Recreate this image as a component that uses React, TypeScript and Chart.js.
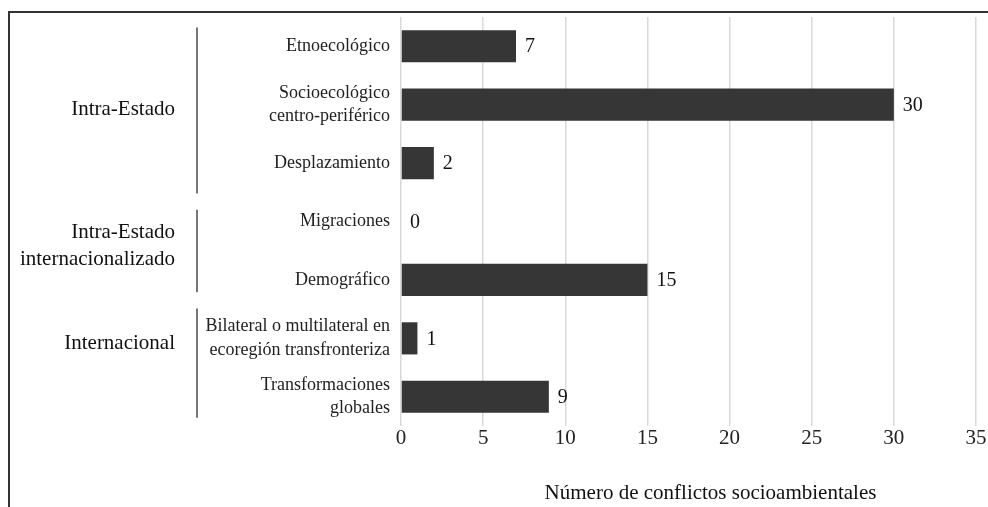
import React, { useEffect, useRef } from "react";
import { Chart, registerables } from "chart.js";

Chart.register(...registerables);

const categories: string[][] = [
  ["Etnoecológico"],
  ["Socioecológico", "centro-periférico"],
  ["Desplazamiento"],
  ["Migraciones"],
  ["Demográfico"],
  ["Bilateral o multilateral en", "ecoregión transfronteriza"],
  ["Transformaciones", "globales"],
];
const values: number[] = [7, 30, 2, 0, 15, 1, 9];
const groupNames: string[][] = [
  ["Intra-Estado"],
  ["Intra-Estado", "internacionalizado"],
  ["Internacional"],
];
const xTicks: number[] = [0, 5, 10, 15, 20, 25, 30, 35];
const xTitle = "Número de conflictos socioambientales";

const FONT = "'Liberation Serif', 'Times New Roman', serif";

// layout of the group brackets, in category-index units
const groupLayout = [
  { lineFrom: -0.32, lineTo: 2.52, labelAt: 1.09 },
  { lineFrom: 2.8, lineTo: 4.21, labelAt: 3.42 },
  { lineFrom: 4.49, lineTo: 6.36, labelAt: 5.08 },
];

const extrasPlugin = {
  id: "extras",
  afterDatasetsDraw(chart: any) {
    const ctx = chart.ctx;
    const meta = chart.getDatasetMeta(0);
    ctx.save();
    // value labels
    ctx.font = `20px ${FONT}`;
    ctx.fillStyle = "#111";
    ctx.textAlign = "left";
    ctx.textBaseline = "middle";
    meta.data.forEach((bar: any, i: number) => {
      ctx.fillText(String(values[i]), bar.x + 9, bar.y + 1);
    });
    // group labels + bracket lines
    const yScale = chart.scales.y;
    groupNames.forEach((lines, g) => {
      const lay = groupLayout[g];
      const y1 = yScale.getPixelForValue(lay.lineFrom);
      const y2 = yScale.getPixelForValue(lay.lineTo);
      ctx.strokeStyle = "#777";
      ctx.lineWidth = 2;
      ctx.beginPath();
      ctx.moveTo(197, y1);
      ctx.lineTo(197, y2);
      ctx.stroke();
      const cy = yScale.getPixelForValue(lay.labelAt);
      const lh = 27;
      ctx.font = `21px ${FONT}`;
      ctx.fillStyle = "#111";
      ctx.textAlign = "right";
      ctx.textBaseline = "middle";
      lines.forEach((t, k) => {
        ctx.fillText(t, 175, cy + (k - (lines.length - 1) / 2) * lh);
      });
    });
    // x axis title
    const area = chart.chartArea;
    ctx.font = `21px ${FONT}`;
    ctx.fillStyle = "#111";
    ctx.textAlign = "center";
    ctx.textBaseline = "middle";
    ctx.fillText(xTitle, (area.left + area.right) / 2 + 22, 493);
    ctx.restore();
  },
};

export default function App() {
  const ref = useRef<HTMLCanvasElement>(null);
  useEffect(() => {
    if (!ref.current) return;
    const chart = new Chart(ref.current, {
      type: "bar",
      data: {
        labels: categories,
        datasets: [
          {
            data: values,
            backgroundColor: "#363636",
            borderWidth: 0,
            barPercentage: 0.55,
            categoryPercentage: 1,
          },
        ],
      },
      options: {
        indexAxis: "y",
        animation: false,
        responsive: false,
        maintainAspectRatio: false,
        layout: { padding: { top: 17, right: 12, bottom: 0, left: 0 } },
        plugins: {
          legend: { display: false },
          tooltip: { enabled: false },
          title: { display: false },
        },
        scales: {
          x: {
            min: 0,
            max: 35,
            afterBuildTicks: (scale: any) => {
              scale.ticks = xTicks.map((v) => ({ value: v }));
            },
            afterFit: (scale: any) => {
              scale.height = 81;
              scale.paddingLeft = 0;
              scale.paddingRight = 0;
            },
            grid: { color: "#d9d9d9", lineWidth: 1.5, drawTicks: false },
            border: { display: false },
            ticks: {
              font: { family: FONT, size: 21 },
              color: "#222",
              padding: 0,
              maxRotation: 0,
            },
          },
          y: {
            afterFit: (scale: any) => {
              scale.width = 401;
              scale.paddingTop = 0;
              scale.paddingBottom = 0;
            },
            grid: { display: false, drawTicks: false },
            border: { display: false },
            ticks: {
              font: { family: FONT, size: 18, lineHeight: 1.3 },
              color: "#222",
              padding: 11,
              autoSkip: false,
            },
          },
        },
      },
      plugins: [extrasPlugin],
    });
    return () => chart.destroy();
  }, []);
  return (
    <div style={{ position: "fixed", left: 0, top: 0, width: 988, height: 507 }}>
      <div
        style={{
          position: "absolute",
          left: 8,
          top: 11,
          width: 980,
          height: 496,
          borderTop: "2px solid #333",
          borderLeft: "2px solid #333",
          boxSizing: "border-box",
        }}
      />
      <canvas
        ref={ref}
        width={988}
        height={507}
        style={{ position: "absolute", left: 0, top: 0, width: 988, height: 507 }}
      />
    </div>
  );
}
